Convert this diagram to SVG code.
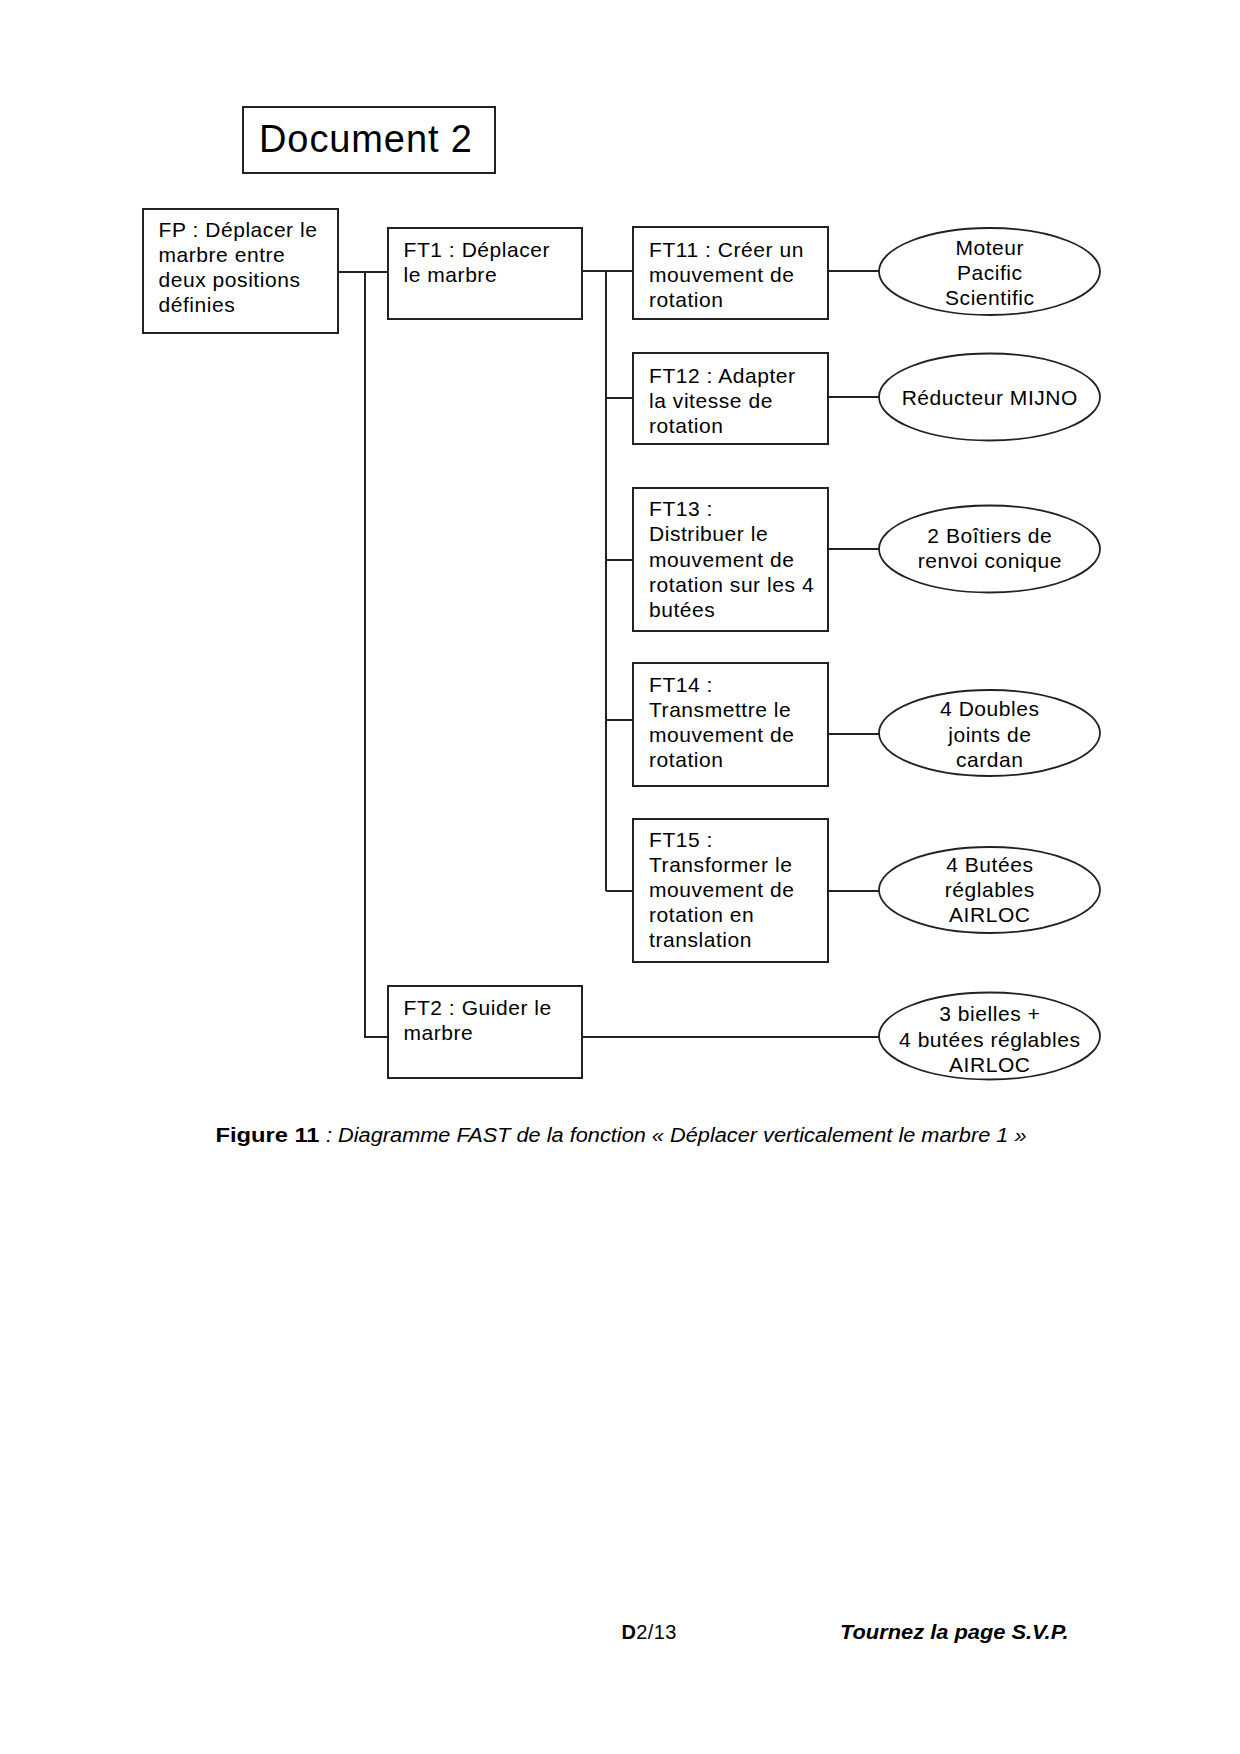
<svg xmlns="http://www.w3.org/2000/svg" width="1240" height="1754" viewBox="0 0 1240 1754">
<style>
.box{fill:#fff;stroke:#222;stroke-width:2}
.ell{fill:#fff;stroke:#222;stroke-width:1.8}
.t{font-family:"Liberation Sans",Arial,sans-serif;font-size:21px;letter-spacing:0.55px;fill:#000}
.c{text-anchor:middle}
.ln{fill:none;stroke:#222;stroke-width:2}
</style>
<rect width="1240" height="1754" fill="#fff"/>
<g id="title">
<rect class="box" x="243" y="107" width="252" height="66"/>
<text x="259" y="152" style="font-family:'Liberation Sans',Arial,sans-serif;font-size:38px;letter-spacing:0.9px">Document 2</text>
</g>
<g id="connectors">
<path class="ln" d="M338 272H388M365 272V1037H388"/>
<path class="ln" d="M582 271H633M606 271V891M606 398H633M606 560H633M606 720H633M606 891H633"/>
<path class="ln" d="M828 271H879M828 397H879M828 549H879M828 734H879M828 891H879M582 1037H879"/>
</g>
<g id="FP">
<rect class="box" x="143" y="209" width="195" height="124"/>
<text class="t" x="158.5" y="237">FP : Déplacer le</text>
<text class="t" x="158.5" y="262">marbre entre</text>
<text class="t" x="158.5" y="287">deux positions</text>
<text class="t" x="158.5" y="312">définies</text>
</g>
<g id="FT1">
<rect class="box" x="388" y="228" width="194" height="91"/>
<text class="t" x="403.5" y="256.5">FT1 : Déplacer</text>
<text class="t" x="403.5" y="281.5">le marbre</text>
</g>
<g id="FT11">
<rect class="box" x="633" y="227" width="195" height="92"/>
<text class="t" x="649" y="257">FT11 : Créer un</text>
<text class="t" x="649" y="282">mouvement de</text>
<text class="t" x="649" y="307">rotation</text>
</g>
<g id="FT12">
<rect class="box" x="633" y="353" width="195" height="91"/>
<text class="t" x="649" y="382.5">FT12 : Adapter</text>
<text class="t" x="649" y="407.5">la vitesse de</text>
<text class="t" x="649" y="432.5">rotation</text>
</g>
<g id="FT13">
<rect class="box" x="633" y="488" width="195" height="143"/>
<text class="t" x="649" y="516">FT13 :</text>
<text class="t" x="649" y="541">Distribuer le</text>
<text class="t" x="649" y="566.5">mouvement de</text>
<text class="t" x="649" y="592">rotation sur les 4</text>
<text class="t" x="649" y="617">butées</text>
</g>
<g id="FT14">
<rect class="box" x="633" y="663" width="195" height="123"/>
<text class="t" x="649" y="691.5">FT14 :</text>
<text class="t" x="649" y="716.5">Transmettre le</text>
<text class="t" x="649" y="741.7">mouvement de</text>
<text class="t" x="649" y="767">rotation</text>
</g>
<g id="FT15">
<rect class="box" x="633" y="819" width="195" height="143"/>
<text class="t" x="649" y="847">FT15 :</text>
<text class="t" x="649" y="872">Transformer le</text>
<text class="t" x="649" y="897">mouvement de</text>
<text class="t" x="649" y="922">rotation en</text>
<text class="t" x="649" y="947">translation</text>
</g>
<g id="FT2">
<rect class="box" x="388" y="986" width="194" height="92"/>
<text class="t" x="403.5" y="1014.5">FT2 : Guider le</text>
<text class="t" x="403.5" y="1039.5">marbre</text>
</g>
<g id="S11">
<ellipse class="ell" cx="989.5" cy="271.5" rx="110.5" ry="43.5"/>
<text class="t c" x="989.8" y="255">Moteur</text>
<text class="t c" x="989.8" y="280">Pacific</text>
<text class="t c" x="989.8" y="305">Scientific</text>
</g>
<g id="S12">
<ellipse class="ell" cx="989.5" cy="397" rx="110.5" ry="43.5"/>
<text class="t c" x="989.8" y="405">Réducteur MIJNO</text>
</g>
<g id="S13">
<ellipse class="ell" cx="989.5" cy="549" rx="110.5" ry="43.5"/>
<text class="t c" x="989.8" y="543">2 Boîtiers de</text>
<text class="t c" x="989.8" y="567.5">renvoi conique</text>
</g>
<g id="S14">
<ellipse class="ell" cx="989.5" cy="733" rx="110.5" ry="43"/>
<text class="t c" x="989.8" y="716">4 Doubles</text>
<text class="t c" x="989.8" y="741.5">joints de</text>
<text class="t c" x="989.8" y="766.5">cardan</text>
</g>
<g id="S15">
<ellipse class="ell" cx="989.5" cy="890" rx="110.5" ry="43"/>
<text class="t c" x="989.8" y="871.5">4 Butées</text>
<text class="t c" x="989.8" y="896.5">réglables</text>
<text class="t c" x="989.8" y="921.5">AIRLOC</text>
</g>
<g id="S2">
<ellipse class="ell" cx="989.5" cy="1036" rx="110.5" ry="43.5"/>
<text class="t c" x="989.8" y="1021">3 bielles +</text>
<text class="t c" x="989.8" y="1046.5">4 butées réglables</text>
<text class="t c" x="989.8" y="1072">AIRLOC</text>
</g>
<g id="caption">
<text x="215.5" y="1142" textLength="104" lengthAdjust="spacingAndGlyphs" style="font-family:'Liberation Sans',Arial,sans-serif;font-size:20px;font-weight:bold">Figure 11</text>
<text x="326" y="1142" textLength="700.5" lengthAdjust="spacingAndGlyphs" style="font-family:'Liberation Sans',Arial,sans-serif;font-size:20px;font-style:italic">: Diagramme FAST de la fonction « Déplacer verticalement le marbre 1 »</text>
</g>
<g id="footer">
<text x="621.5" y="1639" style="font-family:'Liberation Sans',Arial,sans-serif;font-size:20px;letter-spacing:0.4px"><tspan font-weight="bold">D</tspan>2/13</text>
<text x="840" y="1639" textLength="228.5" lengthAdjust="spacingAndGlyphs" style="font-family:'Liberation Sans',Arial,sans-serif;font-size:20px;font-weight:bold;font-style:italic">Tournez la page S.V.P.</text>
</g>
</svg>
